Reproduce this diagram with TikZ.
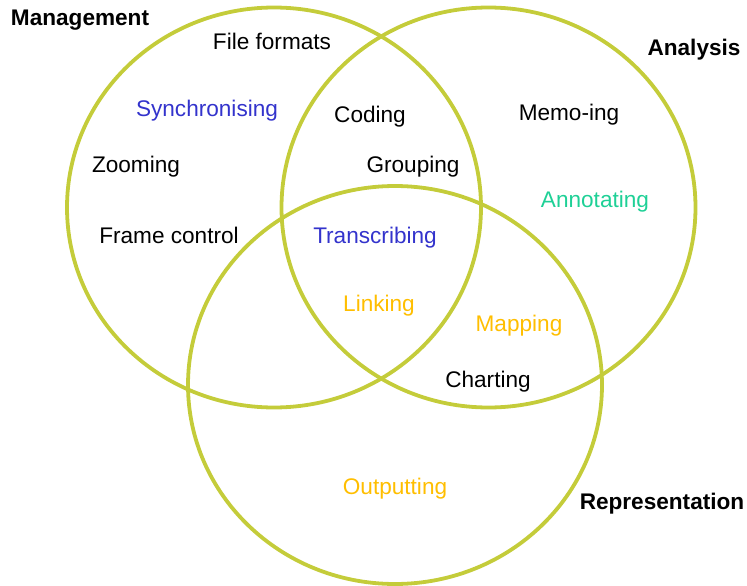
\documentclass[tikz,border=0pt]{standalone}
\usepackage{fontspec}
\setmainfont{Liberation Sans}
\definecolor{ring}{RGB}{196,204,58}
\definecolor{tblue}{RGB}{51,51,204}
\definecolor{torange}{RGB}{255,190,0}
\definecolor{tteal}{RGB}{30,208,150}
\begin{document}
\begin{tikzpicture}[x=1pt,y=-1pt,
  ring/.style={draw=ring,line width=3.8pt},
  lbl/.style={anchor=base,inner sep=0pt,font=\fontsize{22.6}{26}\selectfont},
  title/.style={lbl,font=\fontsize{22.6}{26}\selectfont\bfseries}]
\useasboundingbox (0,0) rectangle (747,586);
\draw[ring] (274,207.5) ellipse [x radius=207pt, y radius=200pt];
\draw[ring] (488.5,207.5) ellipse [x radius=207pt, y radius=200pt];
\draw[ring] (395,385) ellipse [x radius=207pt, y radius=199pt];
\node[title] (mgmt) at (80,26) {Management};
\node[title] (anal) at (694,56) {Analysis};
\node[title] (repr) at (662,509) {Representation};
\node[lbl] (ff) at (272,50) {File formats};
\node[lbl,text=tblue] (sync) at (207,117) {Synchronising};
\node[lbl] (cod) at (370,122) {Coding};
\node[lbl] (memo) at (569,121) {Memo-ing};
\node[lbl] (zoom) at (136,172) {Zooming};
\node[lbl] (grp) at (413,172) {Grouping};
\node[lbl,text=tteal] (ann) at (595,207) {Annotating};
\node[lbl] (frame) at (169,243) {Frame control};
\node[lbl,text=tblue] (trans) at (375,243) {Transcribing};
\node[lbl,text=torange] (link) at (379,311) {Linking};
\node[lbl,text=torange] (map) at (519,331) {Mapping};
\node[lbl] (chart) at (488,387) {Charting};
\node[lbl,text=torange] (out) at (395,494) {Outputting};
\end{tikzpicture}
\end{document}
